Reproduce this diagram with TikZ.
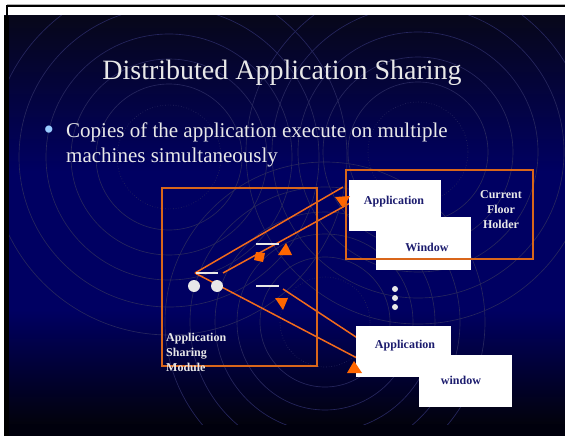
\documentclass[tikz,border=0pt]{standalone}
\usepackage{fontspec}
\setmainfont{Liberation Serif}
\definecolor{navy}{HTML}{000062}
\definecolor{topdark}{HTML}{07071A}
\definecolor{botdark}{HTML}{02020C}
\definecolor{ringcol}{HTML}{26265E}
\definecolor{boxorange}{HTML}{D9661A}
\definecolor{lineorange}{HTML}{F26A1B}
\definecolor{markorange}{HTML}{FF6600}
\definecolor{labelnavy}{HTML}{1C1C6E}
\definecolor{textwhite}{HTML}{E8E8E8}
\definecolor{bulletblue}{HTML}{99CCFF}
\tikzset{
  ring/.style={draw=ringcol, line width=0.65pt},
  dotring/.style={ring, dotted},
  frame/.style={draw=boxorange, line width=1.8pt},
  link/.style={draw=lineorange, line width=1.5pt},
  pointer/.style={fill=markorange, draw=none},
  winbox/.style={fill=white, draw=none, inner sep=0pt},
  winlabel/.style={text=labelnavy, inner sep=0pt, font=\fontsize{12}{14}\selectfont\bfseries},
  sidelabel/.style={text=textwhite, inner sep=0pt, font=\fontsize{12}{15}\selectfont\bfseries},
  bar/.style={draw=textwhite, line width=1.3pt},
  spot/.style={fill=textwhite, draw=none},
}
\begin{document}
\begin{tikzpicture}[x=1pt, y=-1pt]
  \useasboundingbox (0,0) rectangle (565,436);
  \fill[white] (0,0) rectangle (565,436);

  % slide background: dark at the top and bottom, navy in the middle
  \fill[top color=topdark, bottom color=navy] (4,16) rectangle (565,172);
  \fill[navy] (4,171) rectangle (565,311);
  \fill[top color=navy, bottom color=botdark] (4,310) rectangle (565,425);
  \fill[black!95!blue] (4,424) rectangle (565,436);
  \fill[black] (4,16) rectangle (9,436);

  % window frame at the top edge
  \draw[gray!60, line width=0.8pt] (7,4) -- (565,4);
  \draw[black, line width=2pt] (7,6) -- (565,6);
  \draw[black, line width=2pt] (7,5) -- (7,16);

  % concentric ripples
  \begin{scope}
    \clip (9,16) rectangle (565,424);
    \draw[dotring] (169,157) circle [radius=52];
    \foreach \r in {73,98,123,150,178}
      \draw[ring] (169,157) circle [radius=\r];
    \draw[dotring] (418,152) circle [radius=50];
    \foreach \r in {70,95,120,146,172}
      \draw[ring] (418,152) circle [radius=\r];
    \draw[dotring] (325,322) circle [radius=45];
    \foreach \r in {65,88,110,135,160}
      \draw[ring] (325,322) circle [radius=\r];
  \end{scope}

  % title and bullet text
  \node[anchor=base, inner sep=0pt, text=textwhite, font=\fontsize{28}{34}\selectfont]
    (title) at (282,80) {Distributed Application Sharing};
  \node[inner sep=0pt, text=bulletblue, font=\fontsize{30}{30}\selectfont]
    (bullet) at (49,133) {•};
  \node[anchor=base west, inner sep=0pt, text=textwhite, font=\fontsize{21}{25}\selectfont]
    (line1) at (66,137) {Copies of the application execute on multiple};
  \node[anchor=base west, inner sep=0pt, text=textwhite, font=\fontsize{21}{25}\selectfont]
    (line2) at (66,162) {machines simultaneously};

  % connector end points
  \coordinate (apex) at (195,273);
  \coordinate (upA) at (343,187);
  \coordinate (barR) at (223,273);
  \coordinate (upB) at (352,202);
  \coordinate (lowA) at (357,358);
  \coordinate (barL) at (283,289);
  \coordinate (lowB) at (359,339);

  % orange connectors
  \draw[link] (apex) -- (upA);
  \draw[link] (barR) -- (upB);
  \draw[link] (apex) -- (lowA);
  \draw[link] (barL) -- (lowB);

  % application windows
  \node[winbox, minimum width=92pt, minimum height=51pt] (appboxA) at (395,205.5) {};
  \node[winbox, minimum width=95pt, minimum height=53pt] (winboxA) at (423.5,243.5) {};
  \node[winbox, minimum width=95pt, minimum height=51pt] (appboxB) at (403.5,351.5) {};
  \node[winbox, minimum width=93pt, minimum height=52pt] (winboxB) at (465.5,381) {};
  \node[winlabel] (appA) at (394,202) {Application};
  \node[winlabel] (winA) at (427,247) {Window};
  \node[winlabel] (appB) at (405,346) {Application};
  \node[winlabel] (winB) at (461,380) {window};

  % frames
  \draw[frame] (162,188) rectangle (317,366);
  \draw[frame] (346,170) rectangle (533,259);
  \node[sidelabel, align=center] (holder) at (501,210) {Current\\Floor\\Holder};
  \node[sidelabel, align=left, anchor=west] (module) at (166,352) {Application\\Sharing\\Module};

  % sharing module internals
  \draw[bar] (196,273) -- (218,273);
  \draw[bar] (256,244) -- (279,244);
  \draw[bar] (256,286) -- (279,286);
  \fill[spot] (194,286) circle [radius=6];
  \fill[spot] (217,286) circle [radius=6];

  % further machines
  \fill[spot] (395,289) circle [radius=3];
  \fill[spot] (395,298) circle [radius=3];
  \fill[spot] (395,307) circle [radius=3];

  % orange pointers
  \fill[pointer] (335,197) -- (350,196) -- (343,208) -- cycle;
  \fill[pointer] (278,255) -- (292,255) -- (286,243) -- cycle;
  \fill[pointer] (256,252) -- (265,253) -- (263,262) -- (254,260) -- cycle;
  \fill[pointer] (275,298) -- (288,298) -- (283,310) -- cycle;
  \fill[pointer] (347,373) -- (362,373) -- (354,361) -- cycle;
\end{tikzpicture}
\end{document}
